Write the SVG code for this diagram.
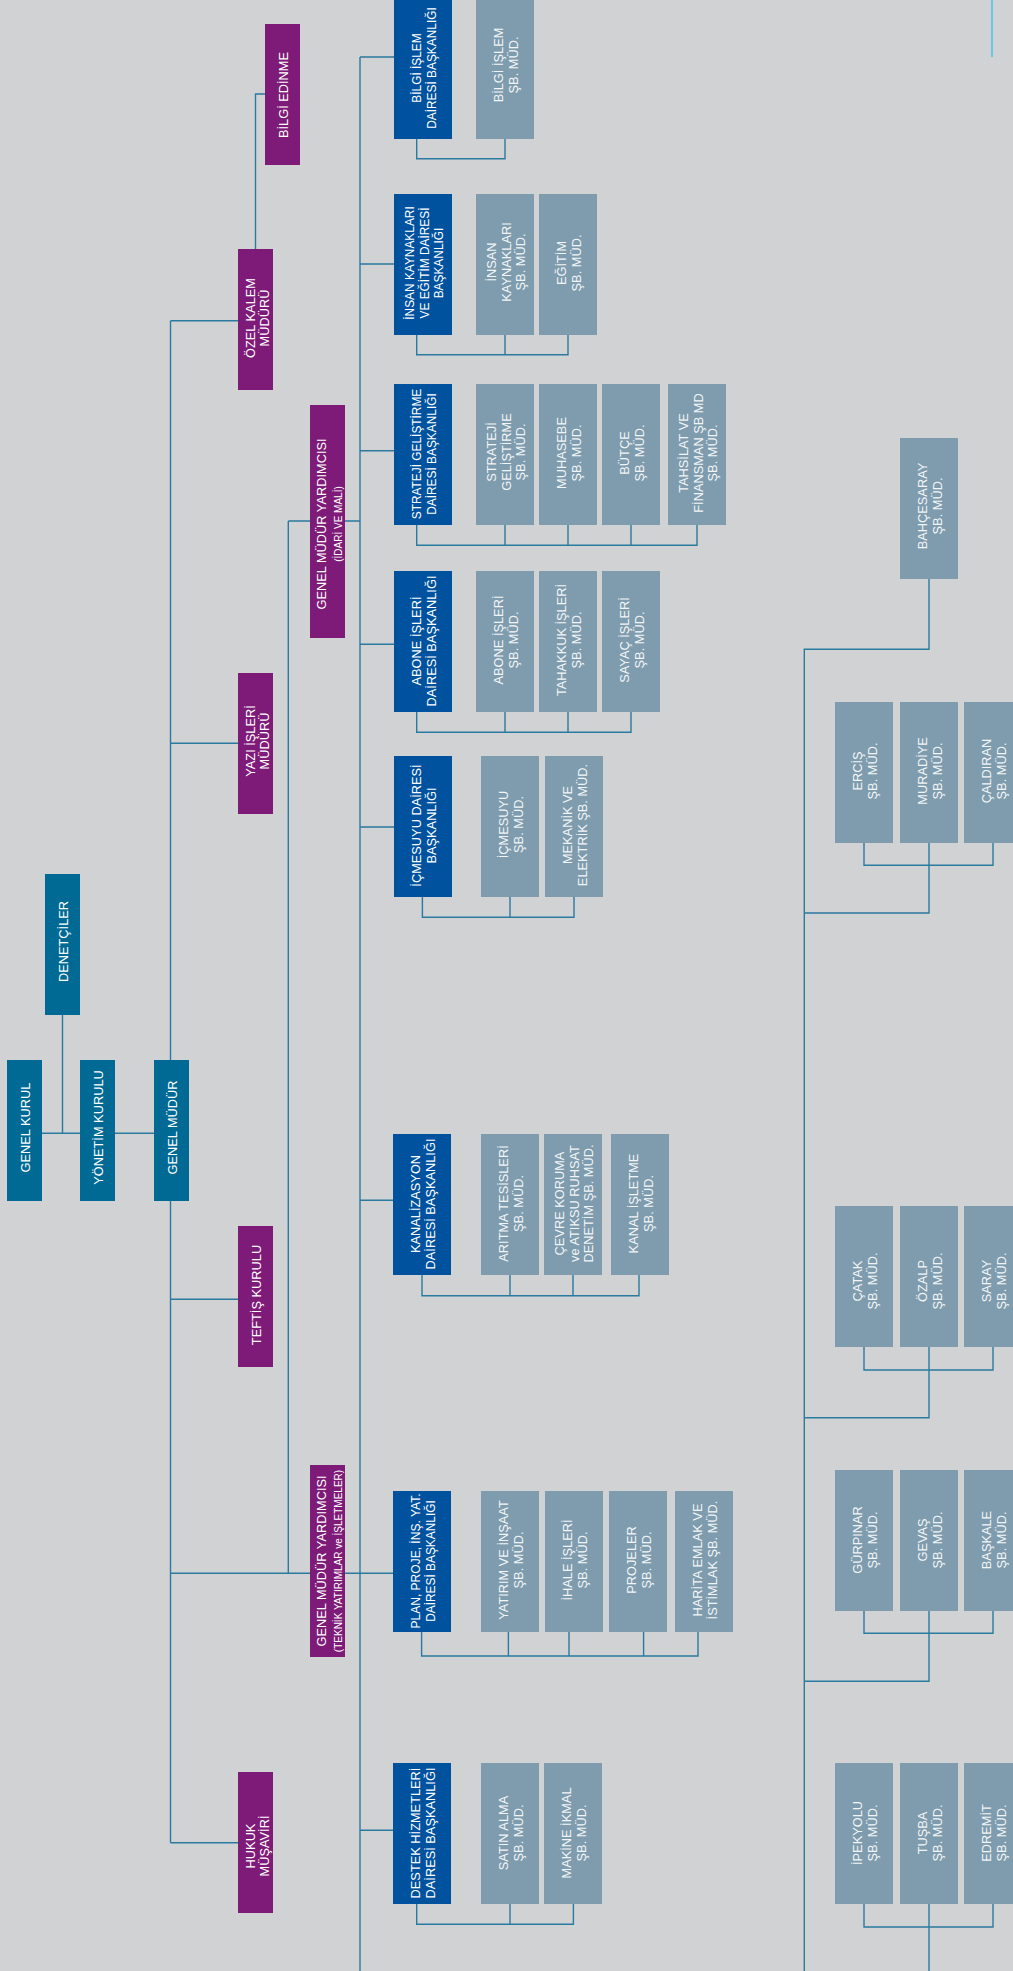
<svg xmlns="http://www.w3.org/2000/svg" width="1013" height="1971" viewBox="0 0 1013 1971">
<style>
.teal{fill:#006a94}
.pur{fill:#7e1a78}
.db{fill:#00529f}
.sb{fill:#7f9cae}
text{font-family:"Liberation Sans",Arial,sans-serif;font-size:12.8px;fill:#ffffff;text-anchor:middle}
.sbt{fill:#f2f5f7}
.sm{font-size:10px}
.f12{font-size:11.9px}
.cn{fill:none;stroke:#2a7aa0;stroke-width:1.4}
</style>
<rect x="0" y="0" width="1013" height="1971" fill="#d1d2d4"/>
<g id="connectors" class="cn">
<path d="M170.5 320.7 V1842.7 M170.5 320.7 H238 M170.5 743.3 H238 M170.5 1299.3 H238 M170.5 1573.3 H310 M170.5 1842.7 H238"/>
<path d="M255.5 249 V94 H265"/>
<path d="M42 1133.3 H80 M115 1133.3 H154 M62.5 1014.7 V1133.3"/>
<path d="M288.3 521 V1573.3 M288.3 521 H310 M345 521 H360 M345 1573.3 H393"/>
<path d="M360 57 V1971 M360 57 H394 M360 264 H394 M360 450.7 H394 M360 644.3 H394 M360 827 H394 M360 1200.3 H393 M360 1830.3 H393"/>
<path d="M416.7 139 V158.7 H505 V139"/>
<path d="M416.7 335 V354.7 H568 V335 M505 335 V354.7"/>
<path d="M416.7 525 V545.3 H697 V525 M505 525 V545.3 M568 525 V545.3 M631 525 V545.3"/>
<path d="M416.7 712 V732.3 H631 V712 M505 712 V732.3 M568 712 V732.3"/>
<path d="M422.4 897 V917.3 H574 V897 M510 897 V917.3"/>
<path d="M422 1275 V1295.7 H639 V1275 M510 1275 V1295.7 M573 1275 V1295.7"/>
<path d="M421.6 1632 V1656 H698 V1632 M508.4 1632 V1656 M569 1632 V1656 M643.6 1632 V1656"/>
<path d="M416.7 1904 V1924.3 H573.4 V1904 M510 1904 V1924.3"/>
<path d="M929 579 V649.3 H804.3 V1971"/>
<path d="M864 843 V865.3 H993 V843 M929 843 V913 H804.3"/>
<path d="M864 1347 V1370 H993 V1347 M929 1347 V1417.7 H804.3"/>
<path d="M864 1611 V1633.3 H993 V1611 M929 1611 V1681.3 H804.3"/>
<path d="M864 1904 V1927 H993 V1904 M929 1904 V1971"/>
</g>
<line x1="992" y1="0" x2="992" y2="57" stroke="#45c3ee" stroke-width="1.5"/>

<g id="genel-kurul"><rect class="teal" x="7" y="1060" width="35" height="141"/><text transform="translate(24.5,1127.5) rotate(-90)" y="5">GENEL KURUL</text></g>
<g id="yonetim-kurulu"><rect class="teal" x="80" y="1060" width="35" height="141"/><text transform="translate(97.5,1127.5) rotate(-90)" y="5">YÖNETİM KURULU</text></g>
<g id="genel-mudur"><rect class="teal" x="154" y="1060" width="35" height="141"/><text transform="translate(171.5,1127.5) rotate(-90)" y="5">GENEL MÜDÜR</text></g>
<g id="denetciler"><rect class="teal" x="45" y="874" width="35" height="141"/><text transform="translate(62.5,941.5) rotate(-90)" y="5">DENETÇİLER</text></g>

<g id="bilgi-edinme"><rect class="pur" x="265" y="24" width="35" height="141"/><text transform="translate(282.5,95) rotate(-90)" y="5">BİLGİ EDİNME</text></g>
<g id="ozel-kalem"><rect class="pur" x="238" y="249" width="35" height="141"/><text transform="translate(255.5,318) rotate(-90)"><tspan x="0" dy="-1">ÖZEL KALEM</tspan><tspan x="0" dy="14.5">MÜDÜRÜ</tspan></text></g>
<g id="yazi-isleri"><rect class="pur" x="238" y="673" width="35" height="141"/><text transform="translate(255.5,741) rotate(-90)"><tspan x="0" dy="-1">YAZI İŞLERİ</tspan><tspan x="0" dy="14.5">MÜDÜRÜ</tspan></text></g>
<g id="teftis-kurulu"><rect class="pur" x="238" y="1226" width="35" height="141"/><text transform="translate(255.5,1295) rotate(-90)" y="5">TEFTİŞ KURULU</text></g>
<g id="hukuk-musaviri"><rect class="pur" x="238" y="1772" width="35" height="141"/><text transform="translate(255.5,1846) rotate(-90)"><tspan x="0" dy="-1">HUKUK</tspan><tspan x="0" dy="14.5">MÜŞAVİRİ</tspan></text></g>
<g id="gmy-idari"><rect class="pur" x="310" y="405" width="35" height="233"/><text transform="translate(327.5,524) rotate(-90)"><tspan x="0" dy="-1.5">GENEL MÜDÜR YARDIMCISI</tspan><tspan class="sm" x="0" dy="15.5">(İDARİ VE MALİ)</tspan></text></g>
<g id="gmy-teknik"><rect class="pur" x="310" y="1465" width="35" height="192"/><text transform="translate(327.5,1561) rotate(-90)"><tspan x="0" dy="-1.5">GENEL MÜDÜR YARDIMCISI</tspan><tspan class="sm" x="0" dy="15.5">(TEKNİK YATIRIMLAR ve İŞLETMELER)</tspan></text></g>

<g id="bilgi-islem-db"><rect class="db" x="394" y="-2" width="58" height="141"/><text class="f12" transform="translate(423,68) rotate(-90)"><tspan x="0" dy="-1.75">BİLGİ İŞLEM</tspan><tspan x="0" dy="14.5">DAİRESİ BAŞKANLIĞI</tspan></text></g>
<g id="insan-kaynaklari-db"><rect class="db" x="394" y="194" width="58" height="141"/><text class="f12" transform="translate(423,263) rotate(-90)"><tspan x="0" dy="-9">İNSAN KAYNAKLARI</tspan><tspan x="0" dy="14.5">VE EĞİTİM DAİRESİ</tspan><tspan x="0" dy="14.5">BAŞKANLIĞI</tspan></text></g>
<g id="strateji-db"><rect class="db" x="394" y="384" width="58" height="141"/><text class="f12" transform="translate(423,454) rotate(-90)"><tspan x="0" dy="-1.75">STRATEJİ GELİŞTİRME</tspan><tspan x="0" dy="14.5">DAİRESİ BAŞKANLIĞI</tspan></text></g>
<g id="abone-db"><rect class="db" x="394" y="571" width="58" height="141"/><text transform="translate(423,641) rotate(-90)"><tspan x="0" dy="-1.75">ABONE İŞLERİ</tspan><tspan x="0" dy="14.5">DAİRESİ BAŞKANLIĞI</tspan></text></g>
<g id="icmesuyu-db"><rect class="db" x="394" y="756" width="58" height="141"/><text transform="translate(423,825.5) rotate(-90)"><tspan x="0" dy="-1.75">İÇMESUYU DAİRESİ</tspan><tspan x="0" dy="14.5">BAŞKANLIĞI</tspan></text></g>
<g id="kanalizasyon-db"><rect class="db" x="393" y="1134" width="58" height="141"/><text transform="translate(422,1204) rotate(-90)"><tspan x="0" dy="-1.75">KANALİZASYON</tspan><tspan x="0" dy="14.5">DAİRESİ BAŞKANLIĞI</tspan></text></g>
<g id="plan-proje-db"><rect class="db" x="393" y="1491" width="58" height="141"/><text class="f12" transform="translate(422,1561) rotate(-90)"><tspan x="0" dy="-1.75" textLength="135" lengthAdjust="spacingAndGlyphs">PLAN, PROJE, İNŞ. YAT.</tspan><tspan x="0" dy="14.5">DAİRESİ BAŞKANLIĞI</tspan></text></g>
<g id="destek-db"><rect class="db" x="393" y="1763" width="58" height="141"/><text transform="translate(422,1833) rotate(-90)"><tspan x="0" dy="-1.75">DESTEK HİZMETLERİ</tspan><tspan x="0" dy="14.5">DAİRESİ BAŞKANLIĞI</tspan></text></g>

<g id="bilgi-islem-sb"><rect class="sb" x="476" y="-2" width="58" height="141"/><text class="sbt" transform="translate(505,65) rotate(-90)"><tspan x="0" dy="-1.75">BİLGİ İŞLEM</tspan><tspan x="0" dy="14.5">ŞB. MÜD.</tspan></text></g>
<g id="insan-kaynaklari-sb"><rect class="sb" x="476" y="194" width="58" height="141"/><text class="sbt" transform="translate(505,262) rotate(-90)"><tspan x="0" dy="-9">İNSAN</tspan><tspan x="0" dy="14.5">KAYNAKLARI</tspan><tspan x="0" dy="14.5">ŞB. MÜD.</tspan></text></g>
<g id="egitim-sb"><rect class="sb" x="539" y="194" width="58" height="141"/><text class="sbt" transform="translate(568,263) rotate(-90)"><tspan x="0" dy="-1.75">EĞİTİM</tspan><tspan x="0" dy="14.5">ŞB. MÜD.</tspan></text></g>
<g id="strateji-sb"><rect class="sb" x="476" y="384" width="58" height="141"/><text class="sbt" transform="translate(505,452) rotate(-90)"><tspan x="0" dy="-9">STRATEJİ</tspan><tspan x="0" dy="14.5">GELİŞTİRME</tspan><tspan x="0" dy="14.5">ŞB. MÜD.</tspan></text></g>
<g id="muhasebe-sb"><rect class="sb" x="539" y="384" width="58" height="141"/><text class="sbt" transform="translate(568,453) rotate(-90)"><tspan x="0" dy="-1.75">MUHASEBE</tspan><tspan x="0" dy="14.5">ŞB. MÜD.</tspan></text></g>
<g id="butce-sb"><rect class="sb" x="602" y="384" width="58" height="141"/><text class="sbt" transform="translate(631,453) rotate(-90)"><tspan x="0" dy="-1.75">BÜTÇE</tspan><tspan x="0" dy="14.5">ŞB. MÜD.</tspan></text></g>
<g id="tahsilat-sb"><rect class="sb" x="668" y="384" width="58" height="141"/><text class="sbt" transform="translate(697,453) rotate(-90)"><tspan x="0" dy="-9">TAHSİLAT VE</tspan><tspan x="0" dy="14.5">FİNANSMAN ŞB MD</tspan><tspan x="0" dy="14.5">ŞB. MÜD.</tspan></text></g>
<g id="abone-sb"><rect class="sb" x="476" y="571" width="58" height="141"/><text class="sbt" transform="translate(505,640) rotate(-90)"><tspan x="0" dy="-1.75">ABONE İŞLERİ</tspan><tspan x="0" dy="14.5">ŞB. MÜD.</tspan></text></g>
<g id="tahakkuk-sb"><rect class="sb" x="539" y="571" width="58" height="141"/><text class="sbt" transform="translate(568,640) rotate(-90)"><tspan x="0" dy="-1.75">TAHAKKUK İŞLERİ</tspan><tspan x="0" dy="14.5">ŞB. MÜD.</tspan></text></g>
<g id="sayac-sb"><rect class="sb" x="602" y="571" width="58" height="141"/><text class="sbt" transform="translate(631,640) rotate(-90)"><tspan x="0" dy="-1.75">SAYAÇ İŞLERİ</tspan><tspan x="0" dy="14.5">ŞB. MÜD.</tspan></text></g>
<g id="icmesuyu-sb"><rect class="sb" x="481" y="756" width="58" height="141"/><text class="sbt" transform="translate(510,824.5) rotate(-90)"><tspan x="0" dy="-1.75">İÇMESUYU</tspan><tspan x="0" dy="14.5">ŞB. MÜD.</tspan></text></g>
<g id="mekanik-sb"><rect class="sb" x="545" y="756" width="58" height="141"/><text class="sbt" transform="translate(574,825) rotate(-90)"><tspan x="0" dy="-1.75">MEKANİK VE</tspan><tspan x="0" dy="14.5">ELEKTRİK ŞB. MÜD.</tspan></text></g>
<g id="aritma-sb"><rect class="sb" x="481" y="1134" width="58" height="141"/><text class="sbt" transform="translate(510,1203.5) rotate(-90)"><tspan x="0" dy="-1.75">ARITMA TESİSLERİ</tspan><tspan x="0" dy="14.5">ŞB. MÜD.</tspan></text></g>
<g id="cevre-sb"><rect class="sb" x="544" y="1134" width="58" height="141"/><text class="sbt" transform="translate(573,1203.5) rotate(-90)"><tspan x="0" dy="-9">ÇEVRE KORUMA</tspan><tspan x="0" dy="14.5">ve ATIKSU RUHSAT</tspan><tspan x="0" dy="14.5">DENETİM ŞB. MÜD.</tspan></text></g>
<g id="kanal-isletme-sb"><rect class="sb" x="611" y="1134" width="58" height="141"/><text class="sbt" transform="translate(640,1203.5) rotate(-90)"><tspan x="0" dy="-1.75">KANAL İŞLETME</tspan><tspan x="0" dy="14.5">ŞB. MÜD.</tspan></text></g>
<g id="yatirim-sb"><rect class="sb" x="481" y="1491" width="58" height="141"/><text class="sbt" transform="translate(510,1560) rotate(-90)"><tspan x="0" dy="-1.75">YATIRIM VE İNŞAAT</tspan><tspan x="0" dy="14.5">ŞB. MÜD.</tspan></text></g>
<g id="ihale-sb"><rect class="sb" x="545" y="1491" width="58" height="141"/><text class="sbt" transform="translate(574,1560) rotate(-90)"><tspan x="0" dy="-1.75">İHALE İŞLERİ</tspan><tspan x="0" dy="14.5">ŞB. MÜD.</tspan></text></g>
<g id="projeler-sb"><rect class="sb" x="609" y="1491" width="58" height="141"/><text class="sbt" transform="translate(638,1560) rotate(-90)"><tspan x="0" dy="-1.75">PROJELER</tspan><tspan x="0" dy="14.5">ŞB. MÜD.</tspan></text></g>
<g id="harita-sb"><rect class="sb" x="675" y="1491" width="58" height="141"/><text class="sbt" transform="translate(704,1560) rotate(-90)"><tspan x="0" dy="-1.75">HARİTA EMLAK VE</tspan><tspan x="0" dy="14.5">İSTİMLAK ŞB. MÜD.</tspan></text></g>
<g id="satin-alma-sb"><rect class="sb" x="481" y="1763" width="58" height="141"/><text class="sbt" transform="translate(510,1833) rotate(-90)"><tspan x="0" dy="-1.75">SATIN ALMA</tspan><tspan x="0" dy="14.5">ŞB. MÜD.</tspan></text></g>
<g id="makine-ikmal-sb"><rect class="sb" x="544" y="1763" width="58" height="141"/><text class="sbt" transform="translate(573,1833) rotate(-90)"><tspan x="0" dy="-1.75">MAKİNE İKMAL</tspan><tspan x="0" dy="14.5">ŞB. MÜD.</tspan></text></g>

<g id="bahcesaray"><rect class="sb" x="900" y="438" width="58" height="141"/><text class="sbt" transform="translate(929,506) rotate(-90)"><tspan x="0" dy="-1.75">BAHÇESARAY</tspan><tspan x="0" dy="14.5">ŞB. MÜD.</tspan></text></g>
<g id="ercis"><rect class="sb" x="835" y="702" width="58" height="141"/><text class="sbt" transform="translate(864,771) rotate(-90)"><tspan x="0" dy="-1.75">ERCİŞ</tspan><tspan x="0" dy="14.5">ŞB. MÜD.</tspan></text></g>
<g id="muradiye"><rect class="sb" x="900" y="702" width="58" height="141"/><text class="sbt" transform="translate(929,771) rotate(-90)"><tspan x="0" dy="-1.75">MURADİYE</tspan><tspan x="0" dy="14.5">ŞB. MÜD.</tspan></text></g>
<g id="caldiran"><rect class="sb" x="964" y="702" width="58" height="141"/><text class="sbt" transform="translate(993,771) rotate(-90)"><tspan x="0" dy="-1.75">ÇALDIRAN</tspan><tspan x="0" dy="14.5">ŞB. MÜD.</tspan></text></g>
<g id="catak"><rect class="sb" x="835" y="1206" width="58" height="141"/><text class="sbt" transform="translate(864,1281) rotate(-90)"><tspan x="0" dy="-1.75">ÇATAK</tspan><tspan x="0" dy="14.5">ŞB. MÜD.</tspan></text></g>
<g id="ozalp"><rect class="sb" x="900" y="1206" width="58" height="141"/><text class="sbt" transform="translate(929,1281) rotate(-90)"><tspan x="0" dy="-1.75">ÖZALP</tspan><tspan x="0" dy="14.5">ŞB. MÜD.</tspan></text></g>
<g id="saray"><rect class="sb" x="964" y="1206" width="58" height="141"/><text class="sbt" transform="translate(993,1281) rotate(-90)"><tspan x="0" dy="-1.75">SARAY</tspan><tspan x="0" dy="14.5">ŞB. MÜD.</tspan></text></g>
<g id="gurpinar"><rect class="sb" x="835" y="1470" width="58" height="141"/><text class="sbt" transform="translate(864,1540) rotate(-90)"><tspan x="0" dy="-1.75">GÜRPINAR</tspan><tspan x="0" dy="14.5">ŞB. MÜD.</tspan></text></g>
<g id="gevas"><rect class="sb" x="900" y="1470" width="58" height="141"/><text class="sbt" transform="translate(929,1540) rotate(-90)"><tspan x="0" dy="-1.75">GEVAŞ</tspan><tspan x="0" dy="14.5">ŞB. MÜD.</tspan></text></g>
<g id="baskale"><rect class="sb" x="964" y="1470" width="58" height="141"/><text class="sbt" transform="translate(993,1540) rotate(-90)"><tspan x="0" dy="-1.75">BAŞKALE</tspan><tspan x="0" dy="14.5">ŞB. MÜD.</tspan></text></g>
<g id="ipekyolu"><rect class="sb" x="835" y="1763" width="58" height="141"/><text class="sbt" transform="translate(864,1833) rotate(-90)"><tspan x="0" dy="-1.75">İPEKYOLU</tspan><tspan x="0" dy="14.5">ŞB. MÜD.</tspan></text></g>
<g id="tusba"><rect class="sb" x="900" y="1763" width="58" height="141"/><text class="sbt" transform="translate(929,1833) rotate(-90)"><tspan x="0" dy="-1.75">TUŞBA</tspan><tspan x="0" dy="14.5">ŞB. MÜD.</tspan></text></g>
<g id="edremit"><rect class="sb" x="964" y="1763" width="58" height="141"/><text class="sbt" transform="translate(993,1833) rotate(-90)"><tspan x="0" dy="-1.75">EDREMİT</tspan><tspan x="0" dy="14.5">ŞB. MÜD.</tspan></text></g>
</svg>
